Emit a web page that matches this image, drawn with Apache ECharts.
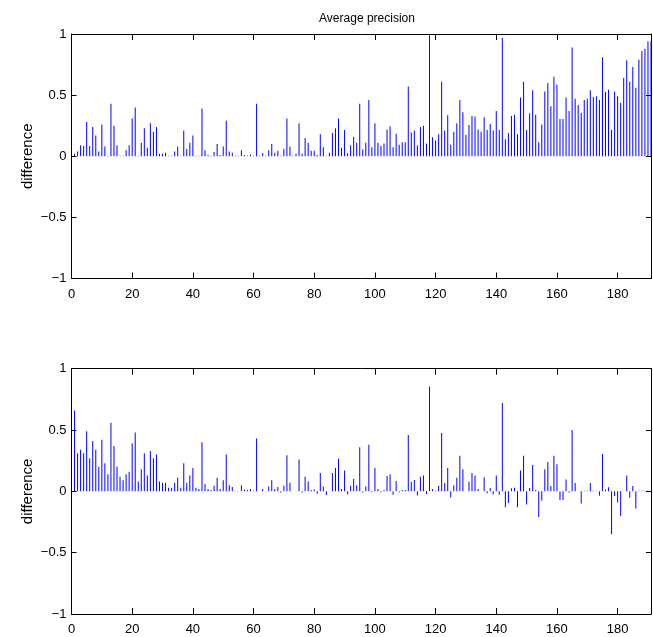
<!DOCTYPE html>
<html>
<head>
<meta charset="utf-8">
<script src="https://cdn.jsdelivr.net/npm/echarts@6/dist/echarts.min.js"></script>
<style>
html,body{margin:0;padding:0;background:#fff;}
#chart{width:653px;height:637px;}
</style>
</head>
<body>
<div id="chart"></div>
<script>
// Query index (1..191)
const queryIndex = [];
for (let i = 1; i <= 191; i++) queryIndex.push(i);

const titleText = 'Average precision';
const yLabel = 'difference';
const xTicks = [0, 20, 40, 60, 80, 100, 120, 140, 160, 180];
const yTicks = [-1, -0.5, 0, 0.5, 1];

// Top panel: difference in average precision
const topValues = [
  0.02, 0.04, 0.09, 0.085, 0.28, 0.085, 0.24, 0.17, 0.04, 0.26,
  0.08, 0.005, 0.43, 0.25, 0.09, 0.005, 0.005, 0.05, 0.09, 0.31,
  0.40, 0.005, 0.11, 0.23, 0.07, 0.27, 0.20, 0.24, 0.02, 0.02,
  0.03, 0.005, 0.005, 0.04, 0.08, 0.005, 0.21, 0.06, 0.11, 0.17,
  0.005, 0.005, 0.39, 0.05, 0.01, 0.005, 0.035, 0.10, 0.01, 0.08,
  0.29, 0.04, 0.03, 0.005, 0.005, 0.05, 0.01, 0.005, 0.015, 0.005,
  0.43, 0.005, 0.025, 0.005, 0.05, 0.10, 0.03, 0.045, 0.005, 0.06,
  0.31, 0.08, 0.005, 0.02, 0.27, 0.02, 0.15, 0.11, 0.045, 0.045,
  0.01, 0.18, 0.075, 0.005, 0.03, 0.19, 0.23, 0.31, 0.07, 0.215,
  0.025, 0.09, 0.16, 0.11, 0.43, 0.055, 0.11, 0.46, 0.075, 0.27,
  0.11, 0.085, 0.105, 0.22, 0.245, 0.075, 0.185, 0.095, 0.115, 0.115,
  0.57, 0.195, 0.21, 0.09, 0.24, 0.25, 0.105, 0.99, 0.155, 0.13,
  0.18, 0.61, 0.21, 0.335, 0.095, 0.20, 0.27, 0.46, 0.36, 0.175,
  0.255, 0.33, 0.325, 0.22, 0.20, 0.32, 0.215, 0.265, 0.21, 0.37,
  0.215, 0.97, 0.14, 0.19, 0.33, 0.34, 0.18, 0.48, 0.61, 0.215,
  0.35, 0.54, 0.34, 0.115, 0.26, 0.53, 0.60, 0.41, 0.65, 0.585,
  0.305, 0.305, 0.48, 0.37, 0.89, 0.47, 0.42, 0.355, 0.46, 0.47,
  0.54, 0.485, 0.49, 0.46, 0.81, 0.525, 0.545, 0.215, 0.53, 0.49,
  0.435, 0.64, 0.785, 0.61, 0.73, 0.56, 0.79, 0.86, 0.88, 0.94,
  0.94
];

// Bottom panel
const bottomValues = [
  0.66, 0.31, 0.34, 0.31, 0.49, 0.27, 0.41, 0.34, 0.20, 0.42,
  0.23, 0.14, 0.56, 0.37, 0.20, 0.12, 0.09, 0.14, 0.16, 0.39,
  0.48, 0.08, 0.18, 0.31, 0.13, 0.33, 0.27, 0.30, 0.08, 0.07,
  0.07, 0.03, 0.03, 0.07, 0.11, 0.03, 0.23, 0.07, 0.13, 0.19,
  0.03, 0.02, 0.40, 0.06, 0.02, 0.01, 0.045, 0.11, 0.02, 0.09,
  0.30, 0.05, 0.035, 0.003, 0.003, 0.05, 0.015, 0.01, 0.02, 0.005,
  0.43, 0.0, 0.02, 0.003, 0.04, 0.09, 0.02, 0.035, -0.01, 0.045,
  0.295, 0.07, 0.0, 0.003, 0.26, -0.01, 0.12, 0.08, 0.01, 0.015,
  -0.02, 0.15, 0.04, -0.03, 0.003, 0.15, 0.19, 0.265, 0.02, 0.17,
  -0.025, 0.045, 0.10, 0.05, 0.36, -0.01, 0.04, 0.38, -0.005, 0.19,
  0.02, -0.008, 0.01, 0.125, 0.14, -0.027, 0.085, -0.008, 0.01, 0.01,
  0.46, 0.077, 0.093, -0.033, 0.12, 0.13, -0.022, 0.855, 0.02, 0.005,
  0.044, 0.475, 0.068, 0.19, -0.05, 0.05, 0.11, 0.29, 0.18, 0.0,
  0.08, 0.15, 0.13, 0.02, 0.0, 0.115, -0.015, 0.027, -0.025, 0.13,
  -0.027, 0.72, -0.13, -0.095, 0.025, 0.03, -0.13, 0.17, 0.29, -0.107,
  0.027, 0.215, 0.01, -0.21, -0.077, 0.18, 0.24, 0.044, 0.29, 0.22,
  -0.07, -0.07, 0.096, -0.01, 0.50, 0.068, 0.0, -0.10, 0.005, 0.005,
  0.068, 0.005, 0.005, -0.035, 0.305, 0.014, 0.033, -0.35, -0.038, -0.09,
  -0.20, 0.0, 0.13, -0.052, 0.044, -0.14, 0.005, 0.005, 0.005, 0.005,
  0.005
];

const FONT = '"Liberation Sans", Arial, Helvetica, sans-serif';
const X_MAX = 191;

function yFmt(v) {
  if (yTicks.indexOf(v) < 0) return '';
  if (v < 0) return '\u2212' + String(Math.abs(v));
  return String(v);
}
function xFmt(v) {
  return xTicks.indexOf(v) >= 0 ? String(v) : '';
}

const grids = [
  { left: 71.5, right: 2, top: 34, height: 244.6 },
  { left: 71.5, right: 2, top: 368.7, height: 245.3 }
];

const xAxes = [];
const yAxes = [];
grids.forEach((g, gi) => {
  xAxes.push({
    type: 'value', gridIndex: gi, min: 0, max: X_MAX, interval: 20,
    position: 'bottom',
    axisLine: { show: true, onZero: false, lineStyle: { color: '#000', width: 1 } },
    axisTick: { show: true, inside: true, length: 6, lineStyle: { color: '#000' } },
    axisLabel: { show: true, margin: 9, color: '#000', fontSize: 13, fontFamily: FONT,
                 formatter: xFmt, showMaxLabel: false },
    splitLine: { show: false }
  });
  xAxes.push({
    type: 'value', gridIndex: gi, min: 0, max: X_MAX, interval: 20,
    position: 'top',
    axisLine: { show: true, onZero: false, lineStyle: { color: '#000', width: 1 } },
    axisTick: { show: true, inside: true, length: 6, lineStyle: { color: '#000' } },
    axisLabel: { show: false },
    splitLine: { show: false }
  });
  yAxes.push({
    type: 'value', gridIndex: gi, min: -1, max: 1, interval: 0.5,
    position: 'left',
    name: yLabel, nameLocation: 'middle', nameGap: 36, nameMoveOverlap: false,
    nameTextStyle: { color: '#000', fontSize: 15, fontFamily: FONT },
    axisLine: { show: true, onZero: false, lineStyle: { color: '#000', width: 1 } },
    axisTick: { show: true, inside: true, length: 5, lineStyle: { color: '#000' } },
    axisLabel: { show: true, margin: 5, color: '#000', fontSize: 13, fontFamily: FONT, formatter: yFmt },
    splitLine: { show: false }
  });
  yAxes.push({
    type: 'value', gridIndex: gi, min: -1, max: 1, interval: 0.5,
    position: 'right',
    axisLine: { show: true, onZero: false, lineStyle: { color: '#000', width: 1 } },
    axisTick: { show: true, inside: true, length: 5, lineStyle: { color: '#000' } },
    axisLabel: { show: false },
    splitLine: { show: false }
  });
});

function pairs(vals) {
  return queryIndex.map((x, i) => [x, vals[i]]);
}

const option = {
  animation: false,
  backgroundColor: '#fff',
  title: {
    text: titleText, left: 362, top: 8, textAlign: 'center',
    textStyle: { color: '#000', fontSize: 12, fontWeight: 'normal', fontFamily: FONT }
  },
  grid: grids,
  xAxis: xAxes,
  yAxis: yAxes,
  series: [
    {
      type: 'bar', xAxisIndex: 0, yAxisIndex: 0, barWidth: 1,
      itemStyle: { color: '#0000ff' }, data: pairs(topValues)
    },
    {
      type: 'bar', xAxisIndex: 2, yAxisIndex: 2, barWidth: 1,
      itemStyle: { color: '#0000ff' }, data: pairs(bottomValues)
    }
  ]
};

const chart = echarts.init(document.getElementById('chart'), null, { renderer: 'canvas' });
chart.setOption(option);
</script>
</body>
</html>
